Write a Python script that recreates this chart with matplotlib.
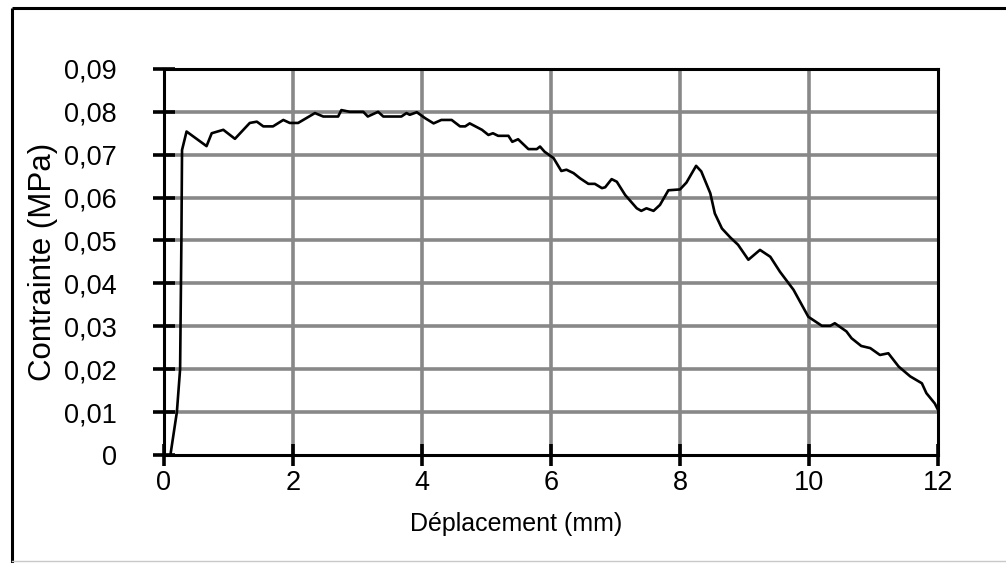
import matplotlib
matplotlib.use('Agg')
import matplotlib.pyplot as plt
from matplotlib.lines import Line2D

plt.rcParams['font.family'] = ['Liberation Sans', 'DejaVu Sans']

# displacement (mm) and stress (MPa)
x_mm = [0.10, 0.20, 0.25, 0.27, 0.28, 0.35, 0.66, 0.74, 0.92, 1.10, 1.33, 1.44, 1.54, 1.69,
        1.85, 1.95, 2.08, 2.34, 2.47, 2.70, 2.75, 2.88, 3.09, 3.16, 3.32, 3.40, 3.68, 3.76,
        3.81, 3.92, 4.05, 4.18, 4.30, 4.46, 4.59, 4.67, 4.74, 4.93, 5.03, 5.10, 5.18, 5.34,
        5.40, 5.49, 5.65, 5.78, 5.83, 5.90, 6.04, 6.16, 6.24, 6.35, 6.45, 6.58, 6.68, 6.79,
        6.84, 6.94, 7.02, 7.15, 7.22, 7.33, 7.40, 7.48, 7.59, 7.69, 7.82, 8.00, 8.10, 8.25,
        8.33, 8.47, 8.54, 8.65, 8.78, 8.90, 9.06, 9.24, 9.40, 9.55, 9.76, 9.99, 10.20, 10.33,
        10.40, 10.58, 10.66, 10.81, 10.95, 11.10, 11.23, 11.39, 11.57, 11.75, 11.82, 11.95, 12.00]
stress_mpa = [0.0, 0.010, 0.020, 0.050, 0.0711, 0.0754, 0.0720, 0.0750, 0.0758, 0.0737, 0.0774,
              0.0777, 0.0766, 0.0766, 0.0781, 0.0774, 0.0774, 0.0797, 0.0789, 0.0789, 0.0804,
              0.0800, 0.0800, 0.0789, 0.0800, 0.0789, 0.0789, 0.0797, 0.0793, 0.0799, 0.0785,
              0.0773, 0.0781, 0.0781, 0.0766, 0.0766, 0.0773, 0.0758, 0.0746, 0.0750, 0.0744,
              0.0744, 0.0730, 0.0736, 0.0713, 0.0713, 0.0719, 0.0707, 0.0692, 0.0662, 0.0665,
              0.0657, 0.0645, 0.0632, 0.0632, 0.0622, 0.0624, 0.0643, 0.0637, 0.0606, 0.0594,
              0.0575, 0.0569, 0.0575, 0.0569, 0.0583, 0.0617, 0.0619, 0.0635, 0.0674, 0.0661,
              0.0610, 0.0563, 0.0528, 0.0507, 0.0490, 0.0455, 0.0478, 0.0462, 0.0427, 0.0385,
              0.0322, 0.0301, 0.0301, 0.0307, 0.0288, 0.0272, 0.0254, 0.0249, 0.0233, 0.0237,
              0.0206, 0.0183, 0.0167, 0.0144, 0.0120, 0.0105]

x_ticks = [0, 2, 4, 6, 8, 10, 12]
y_ticks = [0, 0.01, 0.02, 0.03, 0.04, 0.05, 0.06, 0.07, 0.08, 0.09]
y_labels = ['0', '0,01', '0,02', '0,03', '0,04', '0,05', '0,06', '0,07', '0,08', '0,09']

fig = plt.figure(figsize=(10.06, 5.63), dpi=100)
ax = fig.add_axes([0.163, 0.192, 0.7694, 0.6856])

# outer frame (left + top black, bottom light)
fig.add_artist(Line2D([12/1006, 12/1006], [0, 1 - 8/563], transform=fig.transFigure,
                      color='black', lw=2.2, solid_capstyle='butt'))
fig.add_artist(Line2D([12/1006, 1.0], [1 - 8/563, 1 - 8/563], transform=fig.transFigure,
                      color='black', lw=2.2, solid_capstyle='butt'))
fig.add_artist(Line2D([12/1006, 1.0], [2/563, 2/563], transform=fig.transFigure,
                      color='#c8c8c8', lw=1.0))

for v in x_ticks[1:-1]:
    ax.axvline(v, color='#888888', lw=2.6, zorder=1)
for v in y_ticks[1:-1]:
    ax.axhline(v, color='#888888', lw=2.6, zorder=1)

ax.plot(x_mm, stress_mpa, color='black', lw=1.9, zorder=3)

ax.set_xlim(0, 12)
ax.set_ylim(0, 0.09)
ax.set_xticks(x_ticks)
ax.set_xticklabels([str(v) for v in x_ticks])
ax.set_yticks(y_ticks)
ax.set_yticklabels(y_labels)
for s in ax.spines.values():
    s.set_linewidth(2.2)
    s.set_zorder(4)
ax.tick_params(axis='both', direction='inout', length=16, width=2.6, labelsize=19.5)
ax.tick_params(axis='y', pad=26)
ax.tick_params(axis='x', pad=3)

ax.set_xlabel('Déplacement (mm)', fontsize=18)
ax.xaxis.set_label_coords(0.455, -0.148)
ax.set_ylabel('Contrainte (MPa)', fontsize=22.5, labelpad=4)

fig.savefig('out.png', dpi=100)
